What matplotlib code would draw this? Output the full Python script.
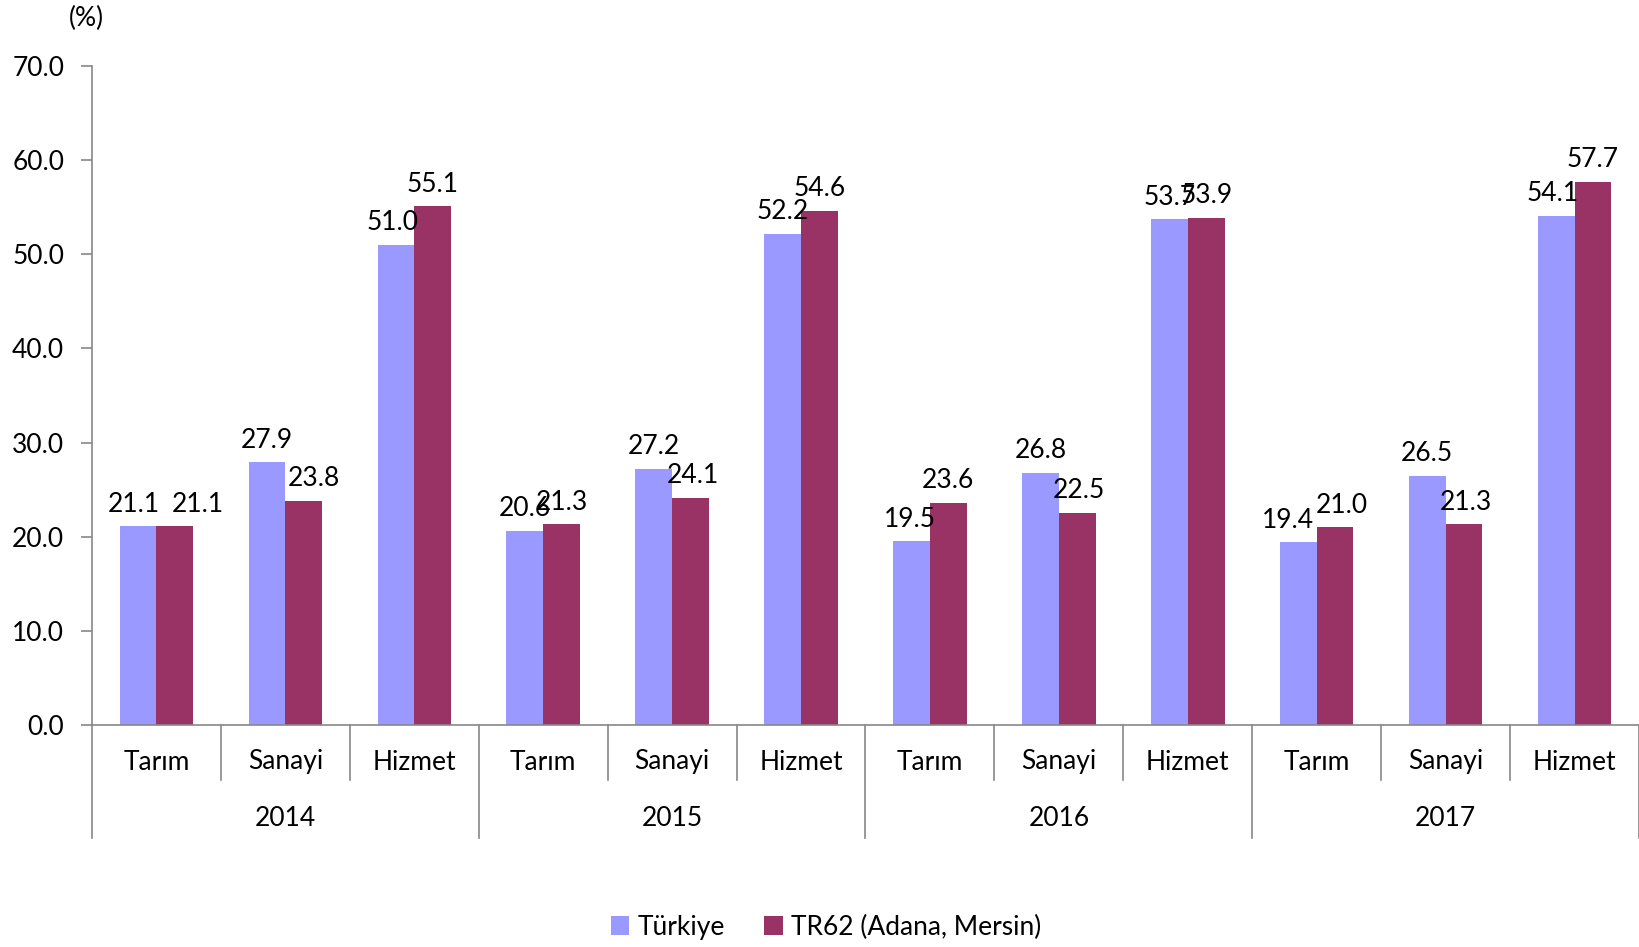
import matplotlib
matplotlib.use('Agg')
import matplotlib.pyplot as plt
import matplotlib.transforms as mtransforms
import numpy as np

years = ['2014', '2015', '2016', '2017']
sectors = ['Tarım', 'Sanayi', 'Hizmet']
turkiye = [21.1, 27.9, 51.0, 20.6, 27.2, 52.2, 19.5, 26.8, 53.7, 19.4, 26.5, 54.1]
tr62 = [21.1, 23.8, 55.1, 21.3, 24.1, 54.6, 23.6, 22.5, 53.9, 21.0, 21.3, 57.7]
series_names = ['Türkiye', 'TR62 (Adana, Mersin)']
colors = ['#9999FF', '#993366']

# horizontal nudges (px) for data labels, mimicking excel's collision shifts
nudge_tr = [-4, 0, -3, 0, 0, 0, -2, 0, 0, -10, 0, -4]
nudge_r62 = [23, 10, 0, 0, 2, 0, 0, 2, 0, 7, 2, 0]

plt.rcParams['font.family'] = ['Lato', 'DejaVu Sans']
plt.rcParams['font.size'] = 19

W, H = 1640, 947
fig = plt.figure(figsize=(W / 100, H / 100), dpi=100)
ax = fig.add_axes([92 / W, 1 - 725 / H, 1 - 92 / W - 1 / W, (725 - 66) / H])

n = len(turkiye)
x = np.arange(n)
bw = 0.285
b1 = ax.bar(x - bw / 2, turkiye, bw, color=colors[0], label=series_names[0])
b2 = ax.bar(x + bw / 2, tr62, bw, color=colors[1], label=series_names[1])

for bars, vals, nudge in ((b1, turkiye, nudge_tr), (b2, tr62, nudge_r62)):
    for r, v, dx in zip(bars, vals, nudge):
        ax.annotate(f'{v:.1f}', (r.get_x() + r.get_width() / 2, v),
                    xytext=(dx * 0.72, 7), textcoords='offset points',
                    ha='center', va='bottom', fontsize=19, color='#000000')

ax.set_xlim(-0.5, n - 0.5)
ax.set_ylim(0, 70)
ax.set_yticks(np.arange(0, 71, 10))
ax.set_yticklabels([f'{v:.1f}' for v in np.arange(0, 71, 10)])
ax.tick_params(axis='y', colors='#888888', labelcolor='black', length=8, width=1.2,
               labelsize=19, pad=12)
ax.set_xticks([])

for s in ['top', 'right']:
    ax.spines[s].set_visible(False)
ax.spines['left'].set_color('#888888')
ax.spines['bottom'].set_color('#888888')
ax.spines['left'].set_linewidth(1.2)
ax.spines['bottom'].set_linewidth(1.2)

# two-level category axis
ax_h = 725 - 66
trans = mtransforms.blended_transform_factory(ax.transData, ax.transAxes)
for i in range(n + 1):
    xb = i - 0.5
    depth = 113 if i % 3 == 0 else 55
    ax.plot([xb, xb], [0, -depth / ax_h], transform=trans, color='#888888',
            lw=1.2, clip_on=False)
for i in range(n):
    ax.text(i, -(762 - 725) / ax_h, sectors[i % 3], transform=trans,
            ha='center', va='center', fontsize=19)
for j, yr in enumerate(years):
    ax.text(j * 3 + 1, -(819 - 725) / ax_h, yr, transform=trans,
            ha='center', va='center', fontsize=19)

fig.text(86 / W, 1 - 18 / H, '(%)', ha='center', va='center', fontsize=19)

fig.legend(handles=[b1, b2], labels=series_names, loc='center',
           bbox_to_anchor=(826 / W, 1 - 927 / H), ncol=2, frameon=False,
           handlelength=0.7, handleheight=0.7, handletextpad=0.3,
           columnspacing=1.5, fontsize=19)

fig.savefig('out.png', dpi=100)
